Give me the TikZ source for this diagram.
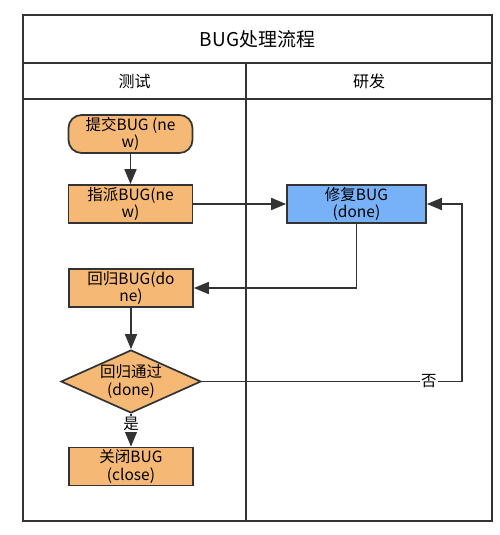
\documentclass[tikz,border=0pt]{standalone}
\usepackage{fontspec}
\setmainfont{Noto Sans CJK SC}
\usetikzlibrary{arrows.meta,shapes.geometric}
\definecolor{org}{HTML}{F5B875}
\definecolor{blu}{HTML}{77B2F9}
\definecolor{ln}{HTML}{333333}
\begin{document}
\begin{tikzpicture}[x=1pt,y=-1pt,
  frame/.style={draw=ln,line width=2pt},
  box/.style={draw=ln,line width=1.7pt,fill=org,minimum width=124pt,minimum height=38pt,inner sep=0pt,align=center,font=\fontsize{15.5}{17.5}\selectfont},
  rbox/.style={box,rounded corners=13pt},
  bbox/.style={box,fill=blu,minimum width=139pt},
  dia/.style={diamond,draw=ln,line width=1.7pt,fill=org,minimum width=140pt,minimum height=63pt,aspect=2.2,inner sep=0pt,align=center,font=\fontsize{15.5}{17.5}\selectfont},
  arr/.style={draw=ln,line width=1.7pt,-{Triangle[length=15pt,width=12pt]}},
  lbl/.style={fill=white,inner sep=1pt,font=\fontsize{15.5}{17.5}\selectfont},
  ttl/.style={font=\fontsize{19}{22}\selectfont},
  hdr/.style={font=\fontsize{16}{19}\selectfont}]
\useasboundingbox (0,0) rectangle (500,535);
% frame
\draw[frame] (23,15) rectangle (492,521);
\draw[frame] (23,63) -- (492,63);
\draw[frame] (23,99) -- (492,99);
\draw[frame] (246,63) -- (246,521);
\node[ttl] (title) at (257.5,39) {BUG处理流程};
\node[hdr] (h1) at (134.5,81) {测试};
\node[hdr] (h2) at (369,81) {研发};
% nodes
\node[rbox] (n1) at (130.5,134) {提交BUG (ne\\w)};
\node[box] (n2) at (130.5,204) {指派BUG(ne\\w)};
\node[bbox] (n3) at (356.5,204) {修复BUG\\(done)};
\node[box] (n4) at (131,288) {回归BUG(do\\ne)};
\node[dia] (d) at (131,381.5) {回归通过\\(done)};
\node[box] (n5) at (131,466.5) {关闭BUG\\(close)};
\coordinate (c) at (462,381.5);
% connectors
\draw[arr] (n1) -- (n2);
\draw[arr] (n2) -- (n3);
\draw[arr] (n3.south) |- (n4.east);
\draw[arr] (n4) -- (d);
\draw[arr] (d) -- node[lbl,pos=0.3] (yes) {是} (n5);
\draw[arr] (d.east) -- node[lbl,pos=0.873] (no) {否} (c) |- (n3.east);
\end{tikzpicture}
\end{document}
